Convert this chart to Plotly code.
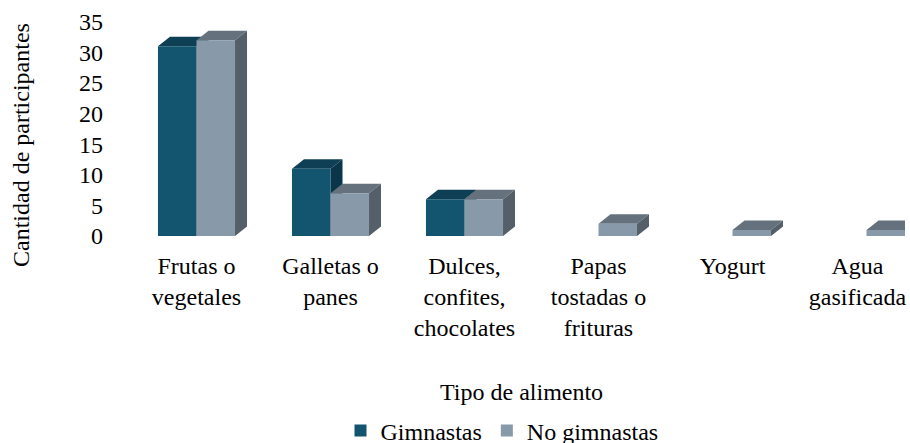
import plotly.graph_objects as go

# ---- data ----
categories = ["Frutas o<br>vegetales", "Galletas o<br>panes", "Dulces,<br>confites,<br>chocolates",
              "Papas<br>tostadas o<br>frituras", "Yogurt",
              "Agua\u00a0\u00a0\u00a0<br>gasificada\u00a0\u00a0\u00a0"]
gimnastas = [31, 11, 6, 0, 0, 0]
no_gimnastas = [32, 7, 6, 2, 1, 1]
series_names = ["Gimnastas", "No gimnastas"]
y_ticks = [0, 5, 10, 15, 20, 25, 30, 35]

# ---- style / layout ----
W, H = 910, 443
ML, MR, MT, MB = 106, 5, 15, 207
FONT = "Liberation Serif"
FS = 24
front = ["#13546F", "#8899A9"]
top = ["#0E3F55", "#65727E"]
side = ["#0B364A", "#545F69"]

plot_w = W - ML - MR
plot_h = H - MT - MB
px_per_cat = 134.0
x0 = -(196.5 - ML) / px_per_cat
x1 = x0 + plot_w / px_per_cat
px_per_unit = 6.12
y1 = plot_h / px_per_unit

bargap = 0.425
bw = (1 - bargap) / 2
dx = 12 / px_per_cat
dy = 9.5 / px_per_unit

xs = list(range(len(categories)))

fig = go.Figure()
for s, vals in enumerate([gimnastas, no_gimnastas]):
    fig.add_trace(go.Bar(
        x=xs, y=vals, name=series_names[s],
        marker=dict(color=front[s], line=dict(width=0)),
        hoverinfo="y+name",
    ))

shapes = []
for s, vals in enumerate([gimnastas, no_gimnastas]):
    for i, v in enumerate(vals):
        if v <= 0:
            continue
        xl = i - bw + s * bw
        xr = xl + bw
        shapes.append(dict(
            type="path", xref="x", yref="y", layer="below",
            path=f"M{xl},{v} L{xl+dx},{v+dy} L{xr+dx},{v+dy} L{xr},{v} Z",
            fillcolor=top[s], line=dict(width=0)))
        shapes.append(dict(
            type="path", xref="x", yref="y", layer="below",
            path=f"M{xr},0 L{xr+dx},{dy} L{xr+dx},{v+dy} L{xr},{v} Z",
            fillcolor=side[s], line=dict(width=0)))

fig.update_layout(
    width=W, height=H,
    margin=dict(l=ML, r=MR, t=MT, b=MB, autoexpand=False),
    paper_bgcolor="white", plot_bgcolor="white",
    font=dict(family=FONT, size=FS, color="#000000"),
    barmode="group", bargap=bargap, bargroupgap=0,
    shapes=shapes,
    showlegend=True,
    legend=dict(orientation="h", x=(502 - ML) / plot_w, xanchor="center",
                y=-(431 - (MT + plot_h)) / plot_h, yanchor="middle",
                font=dict(size=FS), itemclick=False, itemdoubleclick=False),
    xaxis=dict(range=[x0, x1], tickmode="array", tickvals=xs, ticktext=categories,
               showgrid=False, zeroline=False, showline=False, ticks="",
               ticklabelstandoff=13, automargin=False, ticklabeloverflow="allow"),
    yaxis=dict(range=[0, y1], tickmode="array", tickvals=y_ticks,
               showgrid=False, zeroline=False, showline=False, ticks="",
               ticklabelstandoff=2, automargin=False),
    annotations=[
        dict(text="Tipo de alimento", xref="paper", yref="paper", showarrow=False,
             x=(521 - ML) / plot_w, y=-(392 - (MT + plot_h)) / plot_h,
             xanchor="center", yanchor="middle", font=dict(size=FS)),
        dict(text="Cantidad de participantes", xref="paper", yref="paper", showarrow=False,
             x=-(ML - 21) / plot_w, y=-(145 - (MT + plot_h)) / plot_h, textangle=-90,
             xanchor="center", yanchor="middle", font=dict(size=FS)),
    ],
)

fig.write_html("out.html", config={"displayModeBar": False},
               post_script="document.body.style.margin='0';document.body.style.overflow='hidden';")
